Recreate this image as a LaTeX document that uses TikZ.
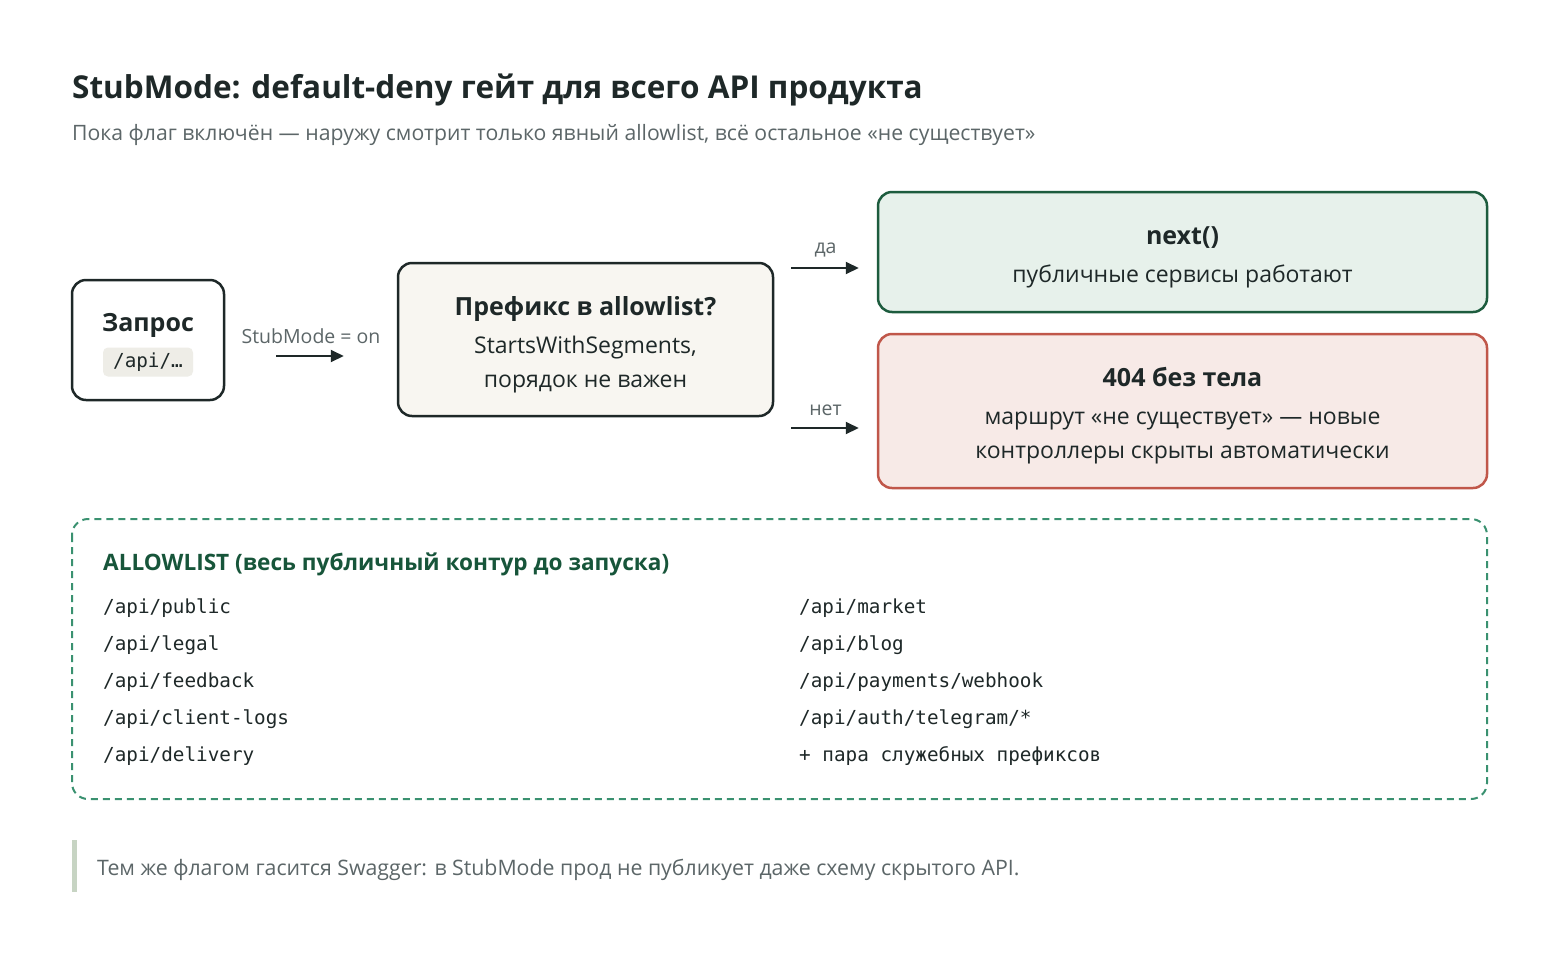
\documentclass[tikz,border=0pt]{standalone}
\usepackage{fontspec}
\setmainfont{Open Sans}
\newfontfamily\codefont{DejaVu Sans Mono}
\usetikzlibrary{arrows.meta,positioning}
\definecolor{ink}{HTML}{1E2828}
\definecolor{muted}{HTML}{5C6668}
\definecolor{paper}{HTML}{F8F6F1}
\definecolor{okfill}{HTML}{E7F1EB}
\definecolor{okline}{HTML}{1D5C3E}
\definecolor{nofill}{HTML}{F7EAE7}
\definecolor{noline}{HTML}{C0574A}
\definecolor{listline}{HTML}{3A9170}
\definecolor{listhead}{HTML}{17553A}
\definecolor{codebg}{HTML}{EEEDE7}
\definecolor{quotebar}{HTML}{C7D4C3}
\newcommand{\px}[2]{\fontsize{#1pt}{#2pt}\selectfont}
\begin{document}
\begin{tikzpicture}[x=1pt,y=-1pt,
    box/.style={draw=ink,line width=2.5pt,rounded corners=14pt,inner sep=0pt},
    boxtext/.style={align=center,text=ink,inner sep=0pt,font=\px{23}{34}},
    arr/.style={draw=ink,line width=2pt,-{Triangle[length=13pt,width=12pt]}},
    lbl/.style={text=muted,font=\px{19.5}{22}},
    path/.style={anchor=west,inner sep=0pt,text=ink,font=\codefont\px{19.3}{22}}]
  \useasboundingbox[fill=white] (0,0) rectangle (1560,956);

  % heading
  \node[anchor=base west,inner sep=0pt,text=ink,font=\bfseries\px{31.5}{36}] (title) at (72,98)
    {StubMode: default-deny гейт для всего API продукта};
  \node[anchor=west,inner sep=0pt,text=muted,font=\px{21.2}{24}] (subtitle) at (72,135)
    {Пока флаг включён — наружу смотрит только явный allowlist, всё остальное «не существует»};

  % request
  \node[box,fill=white,minimum width=152pt,minimum height=120pt] (zap) at (148,340) {};
  \node[text=ink,font=\bfseries\px{25}{30}] (zaptitle) at (148,325) {Запрос};
  \node[fill=codebg,rounded corners=5pt,minimum width=90pt,minimum height=29pt,inner sep=0pt,
    text=ink,font=\codefont\px{19.3}{22}] (zapcode) at (148,362) {/api/…};

  % check
  \node[box,fill=paper,minimum width=375pt,minimum height=153pt] (pref) at (585.5,339.5) {};
  \node[boxtext] (preftext) at ([yshift=-5pt]pref.center)
    {{\bfseries\px{25}{34}Префикс в allowlist?}\\[4pt]StartsWithSegments,\\порядок не важен};

  % outcomes
  \node[box,draw=okline,fill=okfill,minimum width=609pt,minimum height=120pt] (next) at (1182.5,252) {};
  \node[boxtext] (nexttext) at ([yshift=-5pt]next.center)
    {{\bfseries\px{25}{34}next()}\\[4pt]публичные сервисы работают};
  \node[box,draw=noline,fill=nofill,minimum width=609pt,minimum height=154pt] (deny) at (1182.5,411) {};
  \node[boxtext] (denytext) at ([yshift=-5pt]deny.center)
    {{\bfseries\px{25}{34}404 без тела}\\[4pt]маршрут «не существует» — новые\\контроллеры скрыты автоматически};

  % connectors
  \draw[arr,shorten <=51pt,shorten >=53pt] ([yshift=-16pt]zap.east) -- ([yshift=-16pt]zap.east -| pref.west)
    node[lbl,midway,above=8pt] (onlbl) {StubMode = on};
  \draw[arr,shorten <=17pt,shorten >=18pt] ([yshift=-16pt]next.west -| pref.east) -- ([yshift=-16pt]next.west)
    node[lbl,midway,above=7pt] (yeslbl) {да};
  \draw[arr,shorten <=17pt,shorten >=18pt] ([yshift=-17pt]deny.west -| pref.east) -- ([yshift=-17pt]deny.west)
    node[lbl,midway,above=8pt] (nolbl) {нет};

  % allowlist
  \draw[listline,line width=2pt,dash pattern=on 7pt off 5pt,rounded corners=16pt] (72,519) rectangle (1487,799);
  \node[anchor=west,inner sep=0pt,text=listhead,font=\bfseries\px{22.6}{26}] (listtitle) at (103,564)
    {ALLOWLIST (весь публичный контур до запуска)};
  \foreach \p [count=\i] in {/api/public,/api/legal,/api/feedback,/api/client-logs,/api/delivery}
    \node[path] (left\i) at (103,571+37*\i) {\p};
  \foreach \p [count=\i] in {/api/market,/api/blog,/api/payments/webhook,/api/auth/telegram/*,+ пара служебных префиксов}
    \node[path] (right\i) at (799,571+37*\i) {\p};

  % note
  \fill[quotebar] (72,840) rectangle (77,892);
  \node[anchor=west,inner sep=0pt,text=muted,font=\px{21.3}{24}] (note) at (97,870)
    {Тем же флагом гасится Swagger: в StubMode прод не публикует даже схему скрытого API.};
\end{tikzpicture}
\end{document}
